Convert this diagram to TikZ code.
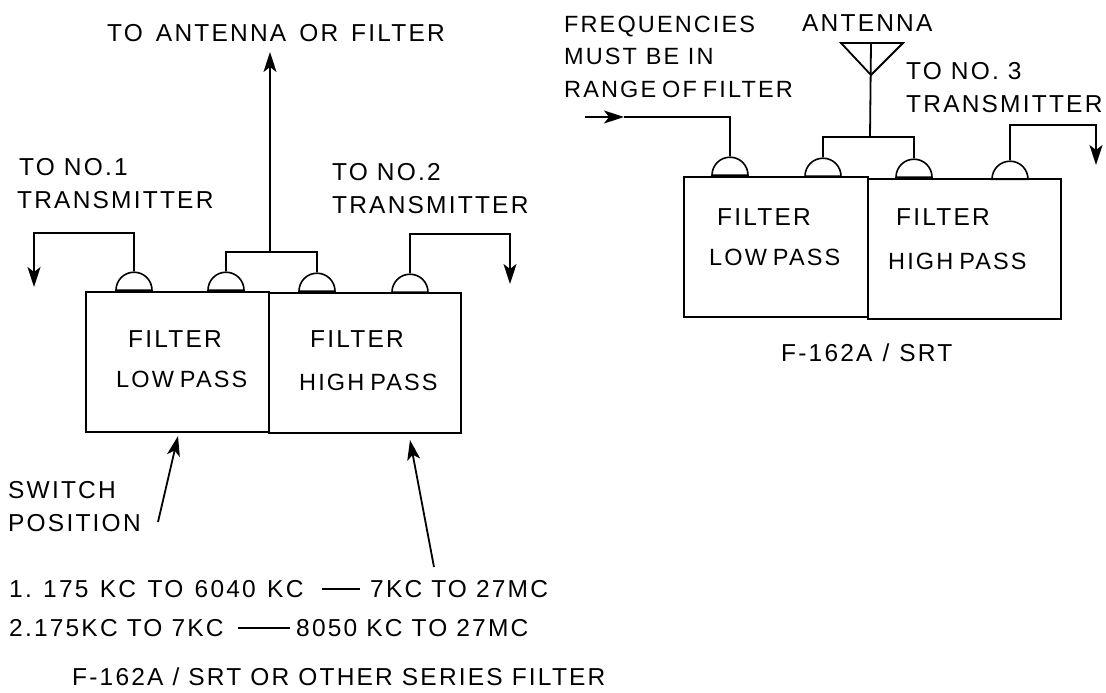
\documentclass[tikz,border=0pt]{standalone}
\usepackage{fontspec}
\setmainfont[LetterSpace=9]{Liberation Sans}
\usetikzlibrary{arrows.meta,shapes.geometric}
\newcommand{\widegap}{\hspace{13pt}}
\newcommand{\midgap}{\hspace{11.4pt}}
\newcommand{\tightgap}{\hspace{6pt}}
\begin{document}
\begin{tikzpicture}[
  x=1pt, y=-1pt,
  note/.style={font=\fontsize{24.5}{32.5}\selectfont, align=left, anchor=base west, inner sep=0pt},
  tightnote/.style={note, font=\fontsize{23.5}{32.5}\selectfont},
  wire/.style={line width=1.8pt},
  tip/.style={wire, -{Stealth[length=20pt,width=13pt,inset=5pt]}},
  pane/.style={draw, line width=1.8pt, minimum height=140pt, inner sep=0pt},
  dome/.style={semicircle, draw, line width=1.6pt, minimum size=18pt, inner sep=0pt, anchor=chord center}
]
\useasboundingbox (0,0) rectangle (1106,693);
% left filter
\node[pane, minimum width=183pt, anchor=north west] (lowa) at (85,291) {};
\node[pane, minimum width=192pt, anchor=north west] (higha) at (268,292) {};
\node[dome] (a1) at (134,291) {};
\node[dome] (a2) at (226,291) {};
\node[dome] (a3) at (317,292) {};
\node[dome] (a4) at (410,293) {};
\coordinate (a1end) at (34,287);
\coordinate (a4end) at (510,284);
\coordinate (abus) at (270,252);
\coordinate (atop) at (270,52);
\draw[tip] (a1.apex) |- (34,233) -- (a1end);
\draw[tip] (a4.apex) |- (510,234) -- (a4end);
\draw[wire] (a2.apex) |- (abus) -| (a3.apex);
\draw[tip] (abus) -- (atop);
\node[note] (ttop) at (107,42) {TO\widegap ANTENNA\widegap OR\widegap FILTER};
\node[note] (tno1) at (17,208) {\hspace{2pt}TO NO.1\\TRANSMITTER};
\node[note] (tno2) at (332,213) {TO NO.2\\TRANSMITTER};
\node[note] (ta1) at (128,347) {FILTER};
\node[tightnote] (ta2) at (116,387) {LOW\tightgap PASS};
\node[note] (ta3) at (310,347) {FILTER};
\node[tightnote] (ta4) at (299,390) {HIGH\tightgap PASS};
% switch positions
\coordinate (sw1) at (158,522);
\coordinate (sw1end) at (178,436);
\coordinate (sw2) at (434,567);
\coordinate (sw2end) at (410,440);
\draw[tip] (sw1) -- (sw1end);
\draw[tip] (sw2) -- (sw2end);
\node[note] (tsw) at (8,531) {SWITCH\\POSITION};
\node[note] (t1a) at (9,597) {1.\midgap 175\midgap KC\midgap TO\midgap 6040\midgap KC};
\node[note] (t1b) at (370,597) {7KC TO 27MC};
\node[note] (t2a) at (9,636) {2.175KC TO 7KC};
\node[note] (t2b) at (296,636) {8050 KC TO 27MC};
\draw[wire] (322,589) -- (360,589);
\draw[wire] (238,628) -- (290,628);
\node[note] (tser) at (72,685) {F-162A / SRT OR OTHER SERIES FILTER};
% right filter
\node[pane, minimum width=184pt, anchor=north west] (lowb) at (683,176) {};
\node[pane, minimum width=193pt, anchor=north west] (highb) at (867,178) {};
\node[dome] (b1) at (730,176) {};
\node[dome] (b2) at (823,177) {};
\node[dome] (b3) at (914,178) {};
\node[dome] (b4) at (1010,180) {};
\coordinate (binp) at (585,117);
\coordinate (bmid) at (624,117);
\coordinate (bbus) at (870,137);
\coordinate (bmast) at (871,43);
\coordinate (bleft) at (841,43);
\coordinate (bright) at (903,43);
\coordinate (bfeed) at (871,75);
\coordinate (b4end) at (1096,165);
\draw[tip] (binp) -- (bmid);
\draw[wire] (bmid) -| (b1.apex);
\draw[wire] (b2.apex) |- (bbus) -| (b3.apex);
\draw[wire] (bbus) -- (bmast);
\draw[wire, line join=miter] (bleft) -- (bright) -- (bfeed) -- cycle;
\draw[tip] (b4.apex) |- (1096,125) -- (b4end);
\node[tightnote] (tfreq) at (564,97) {FREQUENCIES\\MUST BE IN\\RANGE\tightgap OF\tightgap FILTER};
\node[note] (tant) at (802,32) {ANTENNA};
\node[note] (tno3) at (906,112) {TO NO. 3\\TRANSMITTER};
\node[note] (tb1) at (717,225) {FILTER};
\node[tightnote] (tb2) at (709,265) {LOW\tightgap PASS};
\node[note] (tb3) at (896,225) {FILTER};
\node[tightnote] (tb4) at (888,269) {HIGH\tightgap PASS};
\node[note] (tbot) at (781,361) {F-162A\hspace{10pt}/\hspace{10pt}SRT};
\end{tikzpicture}
\end{document}
